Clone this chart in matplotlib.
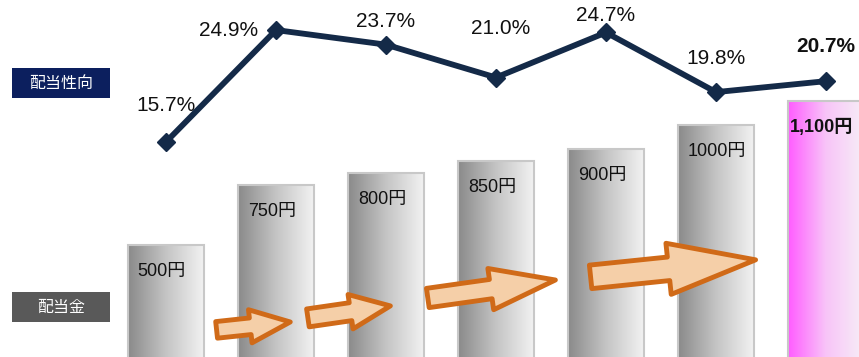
import numpy as np
from matplotlib import pyplot as plt
from matplotlib import font_manager
from matplotlib.colors import LinearSegmentedColormap
from matplotlib.patches import Rectangle, FancyArrowPatch, ArrowStyle

# data
dividend = [500, 750, 800, 850, 900, 1000, 1100]
dividend_labels = ['500円', '750円', '800円', '850円', '900円', '1000円', '1,100円']
payout = [15.7, 24.9, 23.7, 21.0, 24.7, 19.8, 20.7]
payout_labels = ['15.7%', '24.9%', '23.7%', '21.0%', '24.7%', '19.8%', '20.7%']

# the numbers in the original use a narrow face; take the narrowest one available
names = {f.name for f in font_manager.fontManager.ttflist}
if 'Liberation Sans Narrow' in names:
    num_face, pct_size, lbl_size = 'Liberation Sans Narrow', 18, 14
else:
    num_face, pct_size, lbl_size = 'Liberation Sans', 15, 13
NUM_FONT = [num_face, 'Noto Sans CJK JP', 'DejaVu Sans']
JP_FONT = ['Noto Sans CJK JP', 'DejaVu Sans']

fig = plt.figure(figsize=(8.59, 3.57), dpi=100)
ax = fig.add_axes([0, 0, 1, 1])
ax2 = ax.twinx()

x = np.arange(len(dividend))
w = 0.69

gray = LinearSegmentedColormap.from_list('g', ['#8a8a8a', '#c4c4c4', '#f2f2f2'])
pink = LinearSegmentedColormap.from_list('p', ['#ff5cff', '#f8c4f8', '#f6eef6'])
grad = np.linspace(0, 1, 256).reshape(1, -1)

bars = ax.bar(x, dividend, width=w, facecolor='none', edgecolor='#c8c8c8', lw=1.5, zorder=3)
for i, b in enumerate(bars):
    x0, y0 = b.get_x(), b.get_y()
    cmap = pink if i == len(bars) - 1 else gray
    im = ax.imshow(grad, cmap=cmap, aspect='auto', zorder=2,
                   extent=(x0, x0 + b.get_width(), y0, y0 + b.get_height()))
    im.set_clip_path(b)
    bold = i == len(bars) - 1
    ax.annotate(dividend_labels[i], (x0, dividend[i]), xytext=(1 if bold else 7, -19),
                textcoords='offset points', ha='left', va='center', fontsize=lbl_size,
                family=NUM_FONT, fontweight='bold' if bold else 'normal',
                color='#111111', zorder=4)

# orange arrows between bars (decoration)
arrows = [((0.46, 146), (1.13, 179), 29, 24, 12),
          ((1.29, 196), (2.04, 246), 29, 25, 13),
          ((2.38, 279), (3.54, 354), 47, 30, 14),
          ((3.86, 367), (5.36, 438), 63, 37, 17)]
for a, b2, hl, hw, tw in arrows:
    ax.add_patch(FancyArrowPatch(a, b2, arrowstyle=ArrowStyle.Simple(head_length=hl, head_width=hw, tail_width=tw),
                                 mutation_scale=1, shrinkA=0, shrinkB=0,
                                 facecolor='#f5cfa8', edgecolor='#d06a18', lw=3.5, zorder=5))

ax.set_xlim(-1.509, 6.30)
ax.set_ylim(33, 1521)
ax.axis('off')

# payout ratio line
ax2.plot(x, payout, color='#142a48', lw=4.2, marker='D', markersize=9, zorder=6)
offsets = [(0, 26), (-34, 0), (0, 17), (3, 35), (0, 12), (0, 24), (0, 25)]
for i, (xi, p) in enumerate(zip(x, payout)):
    ax2.annotate(payout_labels[i], (xi, p), xytext=offsets[i], textcoords='offset points',
                 ha='center', va='center', fontsize=pct_size, family=NUM_FONT,
                 fontweight='bold' if i == len(x) - 1 else 'normal', color='#111111')
ax2.set_ylim(-1.97, 27.37)
ax2.axis('off')

# left side captions
for (yb, label, col) in [(259, '配当性向', '#0c1f5e'), (35, '配当金', '#595959')]:
    fig.patches.append(Rectangle((12 / 859, yb / 357), 98 / 859, 30 / 357,
                                 transform=fig.transFigure, facecolor=col, edgecolor='none'))
    fig.text(61 / 859, (yb + 15) / 357, label, color='white', ha='center', va='center',
             fontsize=11.5, family=JP_FONT)

fig.savefig('out.png', dpi=100)
